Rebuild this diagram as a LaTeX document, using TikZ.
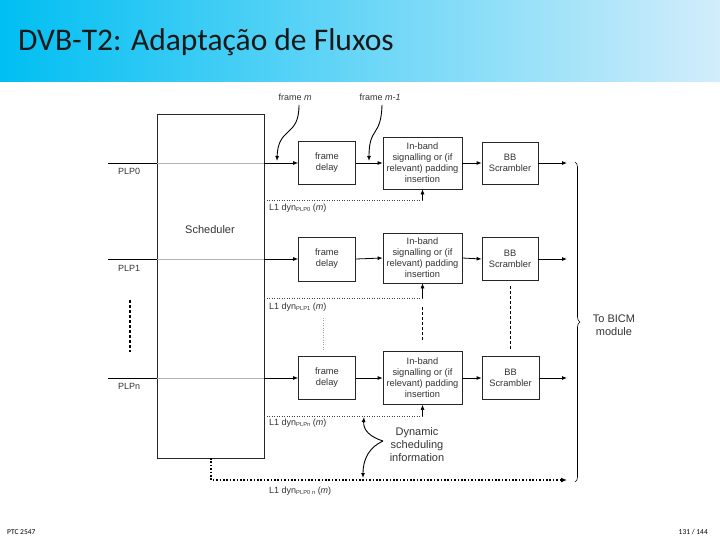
\documentclass[tikz,border=0pt]{standalone}
\usepackage{fontspec}
\setmainfont{Liberation Sans}
\newfontfamily\titlefont{Carlito}
\usetikzlibrary{arrows.meta,decorations.pathreplacing}
\definecolor{bandL}{HTML}{00BFF2}
\definecolor{bandR}{HTML}{D2EDFB}
\tikzset{
  blk/.style={draw=black!85, line width=0.8pt, fill=white, align=center, text=black!80,
    font=\fontsize{9.3}{11}\selectfont, inner sep=0pt},
  sig/.style={line width=0.8pt, -{Latex[length=5pt,width=4pt]}},
  plain/.style={line width=0.8pt},
  l1/.style={line width=0.5pt, dotted, black!75},
  lbl/.style={font=\fontsize{9}{10.5}\selectfont, text=black!80, inner sep=0pt},
  curv/.style={line width=0.9pt, -{Latex[length=5pt,width=4pt]}},
}
\newcommand{\sbs}[1]{\raisebox{-0.25ex}{\fontsize{5.8}{6}\selectfont #1}}
\begin{document}
\begin{tikzpicture}[x=1pt,y=-1pt]
\useasboundingbox (0,0) rectangle (720,540);
% title band
\shade[left color=bandL, right color=bandR] (0,0) rectangle (720,82);
\node[anchor=base west, inner sep=0pt, font=\titlefont\fontsize{31.5}{36}\selectfont, text=black!90] (title) at (18,51) {DVB-T2: Adaptação de Fluxos};
% footer
\node[anchor=base west, inner sep=0pt, font=\titlefont\fontsize{7.5}{9}\selectfont] (foot1) at (7,534) {PTC 2547};
\node[anchor=base east, inner sep=0pt, font=\titlefont\fontsize{7.5}{9}\selectfont] (foot2) at (708,534) {131 / 144};

% scheduler
\node[draw=black!85, line width=0.8pt, fill=white, minimum width=107pt, minimum height=344pt, inner sep=0pt] (sched) at (210.5,286) {};
\node[lbl, font=\fontsize{11}{12}\selectfont] (schedl) at (210,230) {Scheduler};

% blocks row 1
\node[blk, minimum width=57pt, minimum height=43pt] (fd1) at (327,163) {frame\\delay};
\node[blk, minimum width=79pt, minimum height=52pt] (ib1) at (422.5,163) {In-band\\signalling or (if\\relevant) padding\\insertion};
\node[blk, minimum width=56pt, minimum height=42pt] (bb1) at (510,163) {BB\\Scrambler};
% row 2
\node[blk, minimum width=57pt, minimum height=44pt] (fd2) at (327,259) {frame\\delay};
\node[blk, minimum width=79pt, minimum height=50pt] (ib2) at (422.5,258) {In-band\\signalling or (if\\relevant) padding\\insertion};
\node[blk, minimum width=56pt, minimum height=43pt] (bb2) at (510,259) {BB\\Scrambler};
% row 3
\node[blk, minimum width=57pt, minimum height=43pt] (fd3) at (327,378) {frame\\delay};
\node[blk, minimum width=79pt, minimum height=53pt] (ib3) at (422.5,378) {In-band\\signalling or (if\\relevant) padding\\insertion};
\node[blk, minimum width=57pt, minimum height=43pt] (bb3) at (510.5,378) {BB\\Scrambler};

% PLP input lines
\foreach \r/\y in {1/163, 2/259, 3/378}{
  \coordinate (p\r) at (108,\y);
  \draw[plain] (p\r) -- (p\r -| sched.west);
  \draw[black!30, line width=0.5pt] (p\r -| sched.west) -- (p\r -| sched.east);
  \draw[sig] (p\r -| sched.east) -- (fd\r.west);
  \draw[sig] (fd\r.east) -- (ib\r.west);
  \draw[sig] (ib\r.east) -- (bb\r.west);
  \coordinate (o\r) at (567,\y);
  \draw[sig] (bb\r.east) -- (o\r);
}
\node[lbl, anchor=west] (plp0) at (118,171) {PLP0};
\node[lbl, anchor=west] (plp1) at (118,268) {PLP1};
\node[lbl, anchor=west] (plpn) at (118,386) {PLPn};

% L1 dyn dotted lines
\coordinate (d1) at (264,200);
\coordinate (d2) at (264,298);
\coordinate (d3) at (264,416);
\draw[l1] (d1) -- (d1 -| ib1.south);
\draw[sig, line width=0.5pt] (d1 -| ib1.south) -- (ib1.south);
\draw[l1] (d2) -- (d2 -| ib2.south);
\draw[sig, line width=0.5pt] (d2 -| ib2.south) -- (ib2.south);
\draw[l1] (d3) -- (d3 -| ib3.south);
\draw[sig, line width=0.5pt] (d3 -| ib3.south) -- (ib3.south);
\node[lbl, anchor=west] (l1a) at (269,208) {L1 dyn\sbs{PLP0} ({\itshape m})};
\node[lbl, anchor=west] (l1b) at (269,307) {L1 dyn\sbs{PLP1} ({\itshape m})};
\node[lbl, anchor=west] (l1c) at (269,423) {L1 dyn\sbs{PLPn} ({\itshape m})};

% bottom thick dotted line
\coordinate (bs) at (211,458);
\coordinate (bc) at (211,480);
\coordinate (be) at (567,480);
\draw[line width=1.6pt, dash pattern=on 1.6pt off 1.8pt, -{Latex[length=6pt,width=5pt]}] (bs) -- (bc) -- (be);
\node[lbl, anchor=west] (l1d) at (269,491) {L1 dyn\sbs{PLP0 n} ({\itshape m})};

% vertical dashed continuation marks
\coordinate (v1a) at (130,300); \coordinate (v1b) at (130,352);
\draw[line width=1.1pt, dash pattern=on 3pt off 2pt] (v1a) -- (v1b);
\coordinate (v2a) at (422.5,307); \coordinate (v2b) at (422.5,342);
\draw[line width=0.6pt, dash pattern=on 3pt off 2pt] (v2a) -- (v2b);
\coordinate (v3a) at (510,286); \coordinate (v3b) at (510,350);
\draw[line width=0.6pt, dash pattern=on 3pt off 2pt] (v3a) -- (v3b);
\coordinate (v4a) at (323,318); \coordinate (v4b) at (323,350);
\draw[line width=0.4pt, black!35, dotted] (v4a) -- (v4b);

% frame m / frame m-1
\node[lbl, anchor=base] (fm) at (295,101) {frame {\itshape m}};
\node[lbl, anchor=base] (fm1) at (380,101) {frame {\itshape m-1}};
\coordinate (fmt) at (277,161);
\coordinate (fm1t) at (369,161);
\draw[curv] (299,105) .. controls (299,138) and (278,126) .. (fmt);
\draw[curv] (382,105) .. controls (381,138) and (369,126) .. (fm1t);

% brace
\coordinate (bra) at (575,162);
\coordinate (brb) at (575,482);
\draw[line width=0.6pt, decorate, decoration={brace, amplitude=5pt}] (bra) -- (brb);
\node[lbl, font=\fontsize{11}{13}\selectfont, align=center] (bicm) at (614,325) {To BICM\\module};

% dynamic scheduling information
\node[lbl, font=\fontsize{11}{13}\selectfont, align=center] (dsi) at (417,445) {Dynamic\\scheduling\\information};
\coordinate (dsp) at (383,441);
\coordinate (dst1) at (364,417);
\coordinate (dst2) at (363,478);
\draw[curv] (dsp) .. controls (370,437) and (363,430) .. (dst1);
\draw[curv] (dsp) .. controls (370,447) and (363,458) .. (dst2);
\end{tikzpicture}
\end{document}
